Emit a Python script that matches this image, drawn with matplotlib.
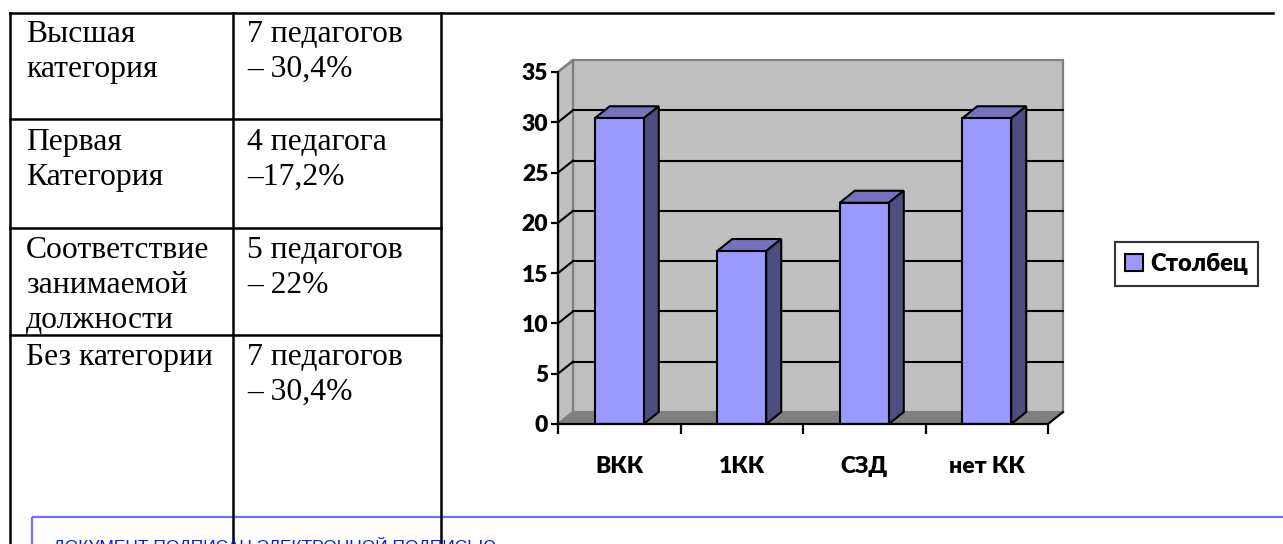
import matplotlib.pyplot as plt
from matplotlib.patches import Rectangle

# chart data
categories = ['ВКК', '1КК', 'СЗД', 'нет КК']
values = [30.4, 17.2, 22, 30.4]
series_name = 'Столбец'
y_ticks = [0, 5, 10, 15, 20, 25, 30, 35]

# table text (left column, right column)
table_left = [['Высшая', 'категория'],
              ['Первая', 'Категория'],
              ['Соответствие', 'занимаемой', 'должности'],
              ['Без категории']]
table_right = [['7 педагогов', '– 30,4%'],
               ['4 педагога', '–17,2%'],
               ['5 педагогов', '– 22%'],
               ['7 педагогов', '– 30,4%']]
stamp_text = 'ДОКУМЕНТ ПОДПИСАН ЭЛЕКТРОННОЙ ПОДПИСЬЮ'

W, H = 1283, 544
fig = plt.figure(figsize=(W / 100, H / 100), dpi=100)

# ---- page layer in pixel coords ----
bg = fig.add_axes([0, 0, 1, 1])
bg.set_xlim(0, W)
bg.set_ylim(H, 0)
bg.axis('off')

lw_tab = 1.8
bg.plot([10, 1273], [13, 13], color='black', lw=lw_tab)
for x in [10, 233, 441]:
    bg.plot([x, x], [13, H], color='black', lw=lw_tab)
for y in [119, 228, 335]:
    bg.plot([10, 441], [y, y], color='black', lw=lw_tab)

row_base = [42, 150, 258, 365]
line_step = 35
serif = 'Liberation Serif'
for r in range(4):
    for k, txt in enumerate(table_left[r]):
        bg.text(26, row_base[r] + k * line_step, txt, fontsize=22.8, family=serif,
                va='baseline', ha='left')
    for k, txt in enumerate(table_right[r]):
        bg.text(247, row_base[r] + k * line_step, txt, fontsize=22.8, family=serif,
                va='baseline', ha='left')

# stamp box at the bottom
bg.add_patch(Rectangle((32, 517), 1300, 60, fill=False, edgecolor='#6F6FFF', lw=1.6,
                       clip_on=False))
bg.text(53, 537, stamp_text, fontsize=12.5, family='Liberation Sans', color='#1515FF',
        va='top', ha='left')

# ---- chart ----
ax_l, ax_r, y0, y35 = 558, 1048, 424, 72
ax = fig.add_axes([ax_l / W, 1 - y0 / H, (ax_r - ax_l) / W, (y0 - y35) / H])
ax.patch.set_visible(False)
ax.set_xlim(-0.5, len(categories) - 0.5)
ax.set_ylim(0, 35)

# depth of the pseudo 3d view, in data units
DX = 15 / ((ax_r - ax_l) / len(categories))
DY = 12 / ((y0 - y35) / 35)
xa, xb = -0.5, len(categories) - 0.5
top = y_ticks[-1]

wall = '#C0C0C0'
edge = '#808080'
# back wall
ax.add_patch(Rectangle((xa + DX, DY), xb - xa, top, facecolor=wall, edgecolor=edge,
                       lw=1.6, clip_on=False, zorder=1))
# left wall
ax.fill([xa, xa + DX, xa + DX, xa], [0, DY, top + DY, top], facecolor=wall,
        edgecolor=edge, lw=1.6, clip_on=False, zorder=1)
# floor
ax.fill([xa, xb, xb + DX, xa + DX], [0, 0, DY, DY], facecolor='#808080',
        edgecolor=edge, lw=1.2, clip_on=False, zorder=1)
ax.plot([xb, xb + DX], [0, DY], color='black', lw=1.5, clip_on=False, zorder=2)

# gridlines on back and left wall
for t in y_ticks[1:-1]:
    ax.plot([xa + DX, xb + DX], [t + DY, t + DY], color='black', lw=1.5, zorder=2,
            clip_on=False)
    ax.plot([xa, xa + DX], [t, t + DY], color='black', lw=1.5, zorder=2, clip_on=False)
ax.plot([xa, xa + DX], [top, top + DY], color=edge, lw=1.6, zorder=2, clip_on=False)

# bars
bw = 0.40
front, lid, side = '#9999FF', '#7373C0', '#4D4D80'
xs = list(range(len(categories)))
ax.bar(xs, values, width=bw, color=front, edgecolor='black', lw=1.5, zorder=4,
       label=series_name)
for x, v in zip(xs, values):
    l, r = x - bw / 2, x + bw / 2
    ax.fill([l, r, r + DX, l + DX], [v, v, v + DY, v + DY], facecolor=lid,
            edgecolor='black', lw=1.5, zorder=3, clip_on=False)
    ax.fill([r, r + DX, r + DX, r], [0, DY, v + DY, v], facecolor=side,
            edgecolor='black', lw=1.5, zorder=3, clip_on=False)

# axes
for s in ['top', 'right']:
    ax.spines[s].set_visible(False)
for s in ['left', 'bottom']:
    ax.spines[s].set_linewidth(1.6)
    ax.spines[s].set_zorder(5)
ax.set_yticks(y_ticks)
ax.set_xticks(xs)
ax.set_xticklabels(categories)
ax.set_xticks([i - 0.5 for i in range(len(categories) + 1)], minor=True)
ax.tick_params(axis='y', length=5, width=1.6, pad=2, labelsize=16.5)
ax.tick_params(axis='x', which='major', length=0, pad=23, labelsize=16.5)
ax.tick_params(axis='x', which='minor', length=7, width=1.6)
for lab in ax.get_xticklabels() + ax.get_yticklabels():
    lab.set_fontfamily('Lato')
    lab.set_fontweight('heavy')

leg = fig.legend(loc='center', bbox_to_anchor=(1186.5 / W, 1 - 264 / H),
                 prop={'family': 'Lato', 'weight': 'heavy', 'size': 17},
                 frameon=True, fancybox=False, edgecolor='black',
                 handlelength=0.75, handleheight=0.75, handletextpad=0.3,
                 borderpad=0.45, borderaxespad=0)
leg.get_frame().set_linewidth(1.5)

fig.savefig('out.png', dpi=100)
